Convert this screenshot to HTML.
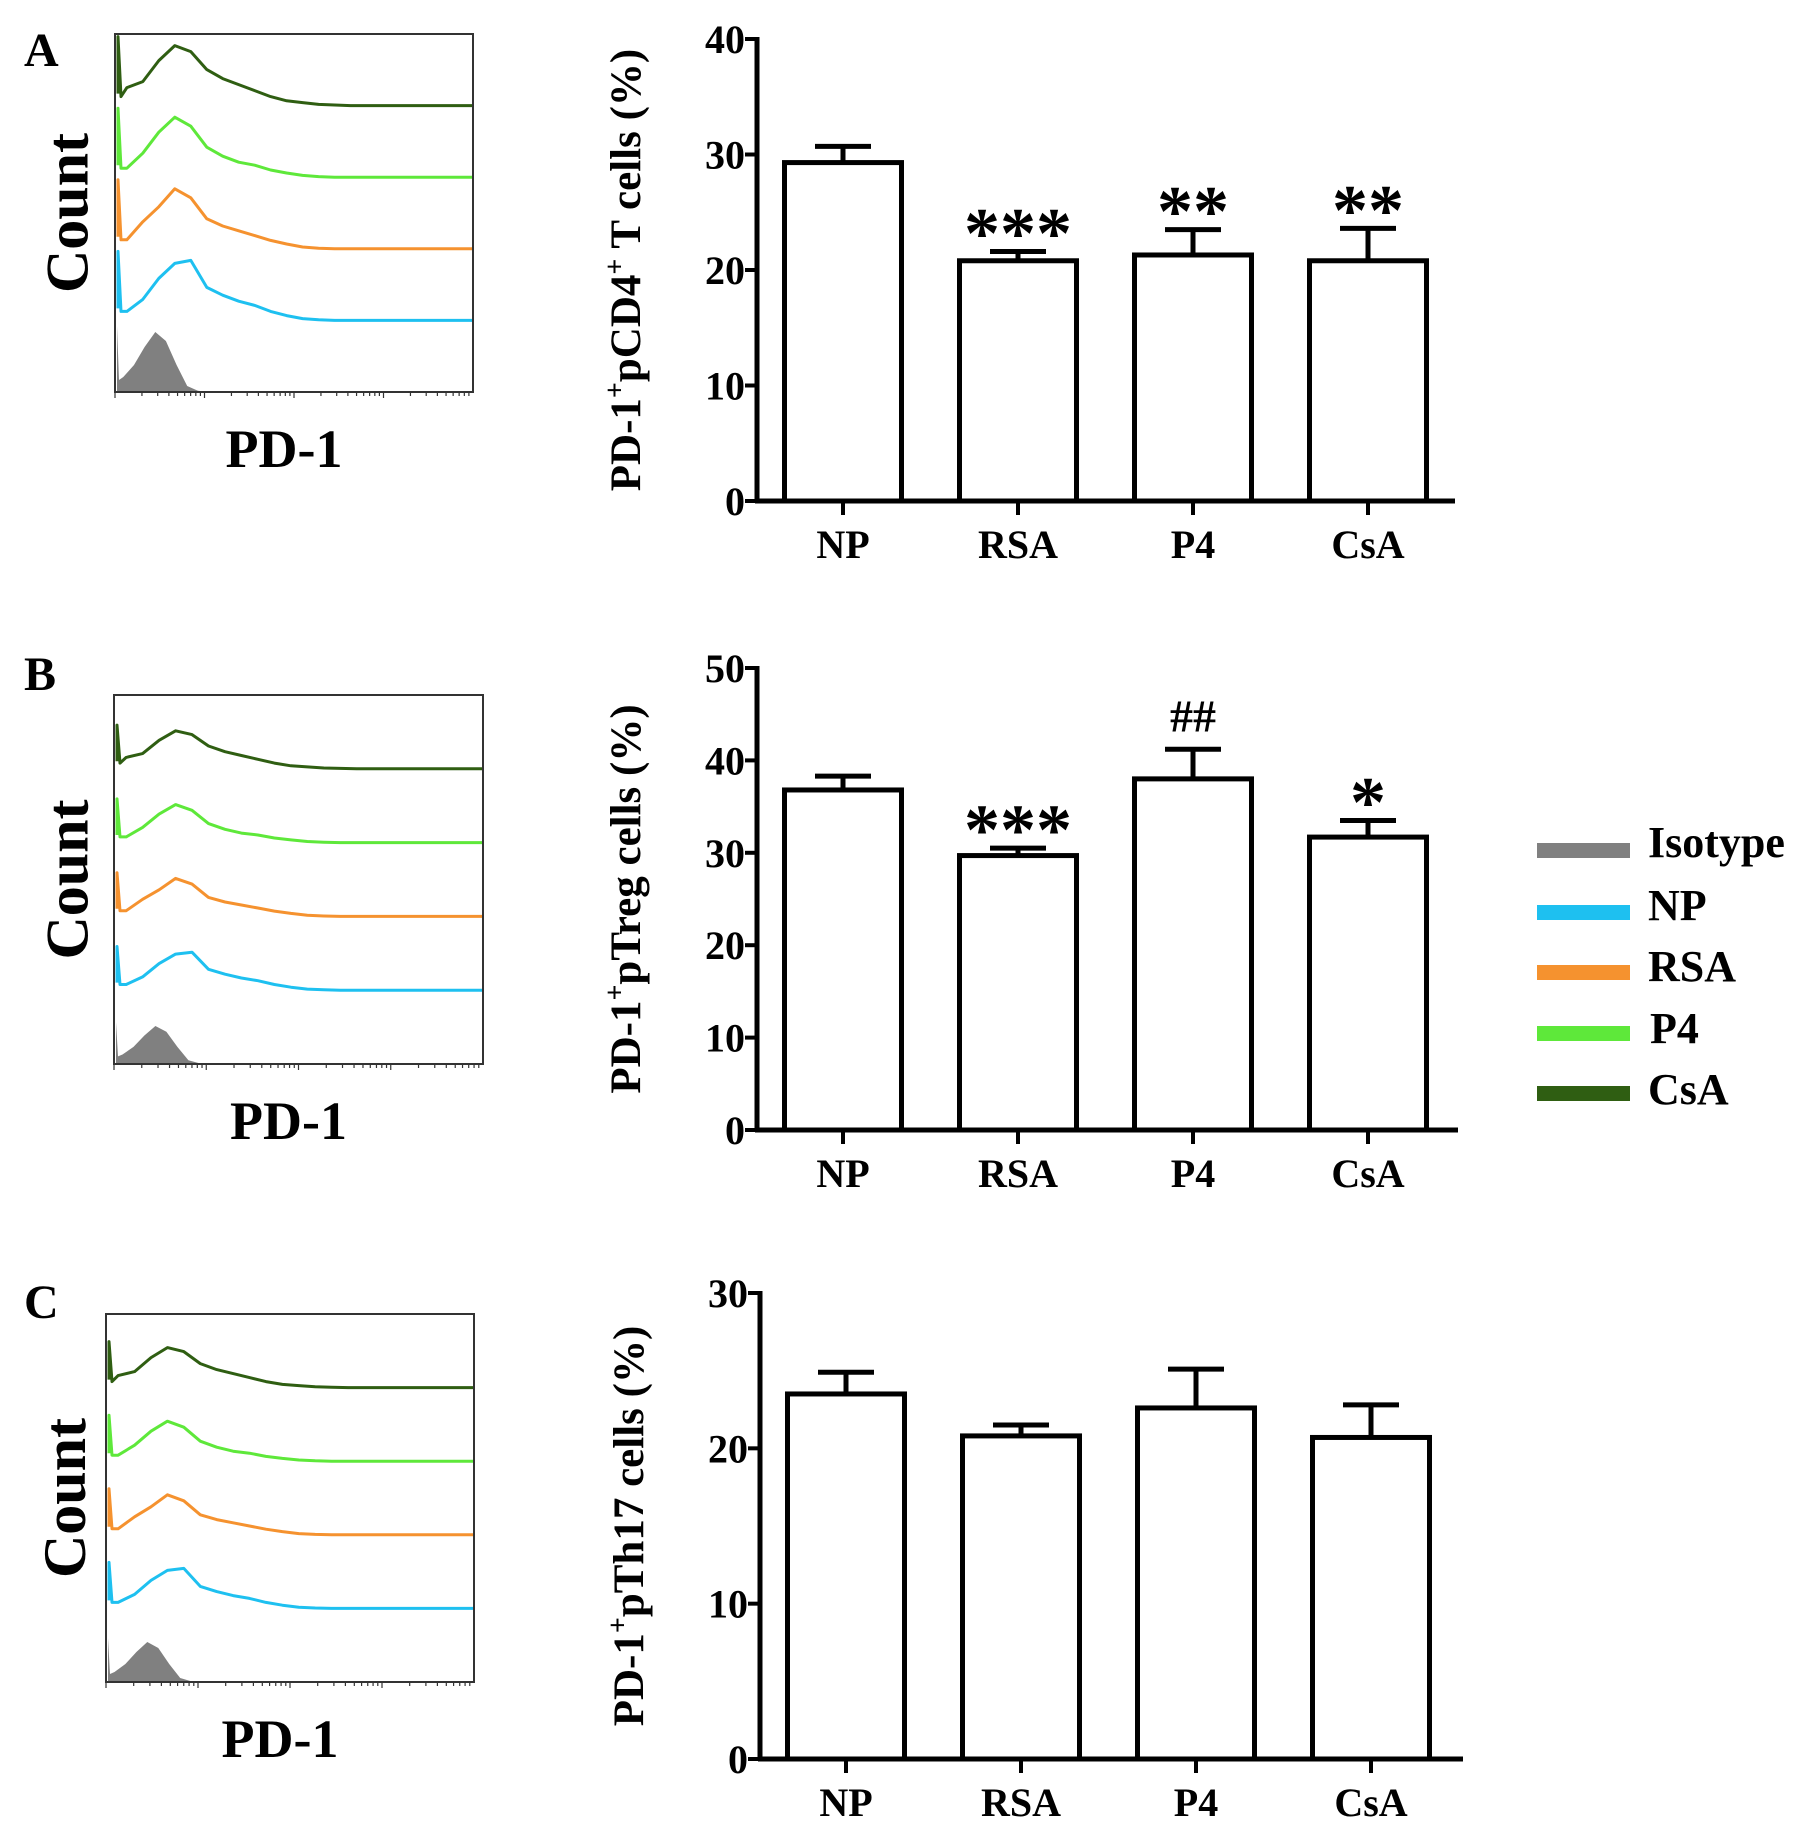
<!DOCTYPE html>
<html><head><meta charset="utf-8">
<style>
html,body{margin:0;padding:0;background:#fff;}
svg{display:block;font-family:"Liberation Serif",serif;font-weight:bold;}
</style></head>
<body>
<svg id="fig" width="1819" height="1838" viewBox="0 0 1819 1838" xmlns="http://www.w3.org/2000/svg">
<g id="hists"></g>
<g id="bars"></g>
<g id="legend">
  <rect x="1537" y="843" width="93" height="15" fill="#808080"/>
  <text x="1648" y="857" font-size="44">Isotype</text>
  <rect x="1537" y="905" width="93" height="15" fill="#1ec0f0"/>
  <text x="1648" y="920" font-size="44">NP</text>
  <rect x="1537" y="965" width="93" height="15" fill="#f5922f"/>
  <text x="1648" y="981" font-size="44">RSA</text>
  <rect x="1537" y="1026" width="93" height="15" fill="#5ee83a"/>
  <text x="1650" y="1043" font-size="44">P4</text>
  <rect x="1537" y="1086" width="93" height="15" fill="#2f5e12"/>
  <text x="1648" y="1104" font-size="44">CsA</text>
</g>
</svg>
<script>
const categories = ["NP","RSA","P4","CsA"];
const valuesA = [29.3, 20.8, 21.3, 20.8];
const errorsA = [30.7, 21.6, 23.5, 23.6];
const valuesB = [36.8, 29.7, 38.0, 31.7];
const errorsB = [38.3, 30.5, 41.2, 33.5];
const valuesC = [23.5, 20.8, 22.6, 20.7];
const errorsC = [24.9, 21.5, 25.1, 22.8];
const sigA = ["", "***", "**", "**"];
const sigB = ["", "***", "##", "*"];
const sigC = ["", "", "", ""];
const ticksA = [0,10,20,30,40];
const ticksB = [0,10,20,30,40,50];
const ticksC = [0,10,20,30];
// histogram shapes (relative counts at 21 equally spaced points on log axis)
const histIso  = [0.25,0.45,0.75,1.0,0.85,0.45,0.1,0.02,0,0,0,0,0,0,0,0,0,0,0,0,0];
const histNP   = [0.15,0.35,0.7,0.95,1.0,0.55,0.42,0.32,0.25,0.15,0.08,0.03,0.01,0,0,0,0,0,0,0,0];
const histRSA  = [0.15,0.45,0.7,1.0,0.85,0.5,0.38,0.3,0.22,0.14,0.08,0.03,0.01,0,0,0,0,0,0,0,0];
const histP4   = [0.15,0.4,0.75,1.0,0.85,0.5,0.35,0.25,0.2,0.12,0.07,0.03,0.01,0,0,0,0,0,0,0,0];
const histCsA  = [0.3,0.4,0.75,1.0,0.9,0.6,0.45,0.35,0.25,0.15,0.08,0.05,0.02,0.01,0,0,0,0,0,0,0];

const NS = "http://www.w3.org/2000/svg";
function mk(tag, attrs, parent){ const e=document.createElementNS(NS,tag); for(const k in attrs) e.setAttribute(k,attrs[k]); parent.appendChild(e); return e; }

const histG = document.getElementById('hists');
const traceColors = ["#1ec0f0","#f5922f","#5ee83a","#2f5e12"];
const traceNames = ["np","rsa","p4","csa"];
function histPanel(letter, x0, y0, x1, y1, letterY, peak){
  const g = mk('g',{},histG);
  
  
  const L = mk('text',{x:24, y:letterY, 'font-size':48},g); L.textContent=letter;
  
  
  const w = x1-x0, h=y1-y0;
  const step = h/5;
  const baselines = [y1, y1-step, y1-2*step, y1-3*step, y1-4*step];
  const sx = i => x0 + 3 + i*(w-3)/20;
  let d = "M"+(x0+2)+","+y1+" L"+(x0+2)+","+(y1-peak*1.1)+" L"+(x0+4)+","+(y1-peak*0.2);
  histIso.forEach((v,i)=>{ d += " L"+sx(i*0.6+0.3).toFixed(1)+","+(y1-v*peak).toFixed(1); });
  d += " L"+sx(12)+","+y1+" Z";
  const iso = mk('path',{d:d, fill:'#808080', stroke:'none'},g);
  
  
  const series=[histNP,histRSA,histP4,histCsA];
  series.forEach((arr,k)=>{
    const b = baselines[k+1];
    let p = "M"+(x0+3)+","+(b-peak*0.2)+" L"+(x0+3)+","+(b-peak*1.15)+" L"+(x0+6)+","+(b-peak*0.15);
    arr.forEach((v,i)=>{ p += " L"+sx(i*0.9+0.5).toFixed(1)+","+(b-v*peak).toFixed(1); });
    p += " L"+x1+","+b;
    const pe = mk('path',{d:p, fill:'none', stroke:traceColors[k], 'stroke-width':3, 'stroke-linejoin':'round'},g);
    
    
  });
  const box = mk('rect',{x:x0,y:y0,width:w,height:h,fill:'none',stroke:'#333','stroke-width':2},g);
  
  
  for(let dec=0; dec<4; dec++){
    for(let m=1;m<10;m++){
      const tx = x0 + w*(dec + Math.log10(m))/4;
      const t = mk('line',{x1:tx,x2:tx,y1:y1,y2:y1+(m===1?6:4),stroke:'#333','stroke-width':1.2},g);
      
      
    }
  }
  const cx = 65 + (x0-106)*0.3, cy=(y0+y1)/2;
  const c = mk('text',{x:0,y:0,'font-size':60,'text-anchor':'middle',transform:'translate('+(cx+20)+','+cy+') rotate(-90)'},g);
  c.textContent='Count';
  
  
  const px = mk('text',{x:(x0+x1)/2-10,y:y1+75,'font-size':54,'text-anchor':'middle'},g);
  px.textContent='PD-1';
  
  
}
histPanel('A',115,34,473,392,66,60);
histPanel('B',114,695,483,1064,690,38);
histPanel('C',106,1314,474,1682,1318,40);

const barG = document.getElementById('bars');
function barChart(id, ax, yTop, yBot, xEnd, maxV, ticks, vals, errs, sig, titleParts){
  const g = mk('g',{},barG);
  
  
  const y = v => yBot - (v/maxV)*(yBot-yTop);
  const bw = 117, gap = 175;
  const cx = i => ax + 86 + i*gap;
  vals.forEach((v,i)=>{
    const r = mk('rect',{x:cx(i)-bw/2, y:y(v), width:bw, height:yBot-y(v), fill:'#fff', stroke:'#000','stroke-width':5},g);
    
    
    const e1 = mk('line',{x1:cx(i),x2:cx(i),y1:y(v),y2:y(errs[i]),stroke:'#000','stroke-width':5},g);
    
    
    const e2 = mk('line',{x1:cx(i)-28,x2:cx(i)+28,y1:y(errs[i]),y2:y(errs[i]),stroke:'#000','stroke-width':5},g);
    
    
    if(sig[i]){
      const isHash = sig[i].indexOf('#')>=0;
      const s = mk('text',{x:cx(i), y:y(errs[i])-(isHash?18:-6), 'font-size':isHash?46:72,'text-anchor':'middle'},g);
      s.textContent=sig[i];
      
      
    }
    const tk = mk('line',{x1:cx(i),x2:cx(i),y1:yBot,y2:yBot+14,stroke:'#000','stroke-width':4},g);
    
    
    const lb = mk('text',{x:cx(i),y:yBot+57,'font-size':40,'text-anchor':'middle'},g);
    lb.textContent=categories[i];
    
    
  });
  const ya = mk('line',{x1:ax,x2:ax,y1:yTop-2,y2:yBot+2,stroke:'#000','stroke-width':5},g);
  
  
  const xa = mk('line',{x1:ax-2,x2:xEnd,y1:yBot,y2:yBot,stroke:'#000','stroke-width':5},g);
  
  
  ticks.forEach(t=>{
    const l = mk('line',{x1:ax-12,x2:ax,y1:y(t),y2:y(t),stroke:'#000','stroke-width':4},g);
    
    
    const tx = mk('text',{x:ax-12,y:y(t)+14,'font-size':40,'text-anchor':'end'},g);
    tx.textContent=t;
    
    
  });
  const title = mk('text',{x:0,y:0,'font-size':43,'text-anchor':'middle',transform:'translate('+(ax-117)+','+((yTop+yBot)/2)+') rotate(-90)'},g);
  
  
  titleParts.forEach(p=>{
    const ts = mk('tspan',{},title);
    if(p.sup){ ts.setAttribute('dy','-16'); ts.setAttribute('font-size','28'); }
    else if(p.after){ ts.setAttribute('dy','16'); }
    ts.textContent=p.t;
  });
}
barChart('a',757,39,501,1455,40,ticksA,valuesA,errorsA,sigA,
  [{t:'PD-1'},{t:'+',sup:1},{t:'pCD4',after:1},{t:'+',sup:1},{t:' T cells (%)',after:1}]);
barChart('b',757,668,1130,1458,50,ticksB,valuesB,errorsB,sigB,
  [{t:'PD-1'},{t:'+',sup:1},{t:'pTreg cells (%)',after:1}]);
barChart('c',760,1293,1759,1463,30,ticksC,valuesC,errorsC,sigC,
  [{t:'PD-1'},{t:'+',sup:1},{t:'pTh17 cells (%)',after:1}]);
</script>
</body></html>
